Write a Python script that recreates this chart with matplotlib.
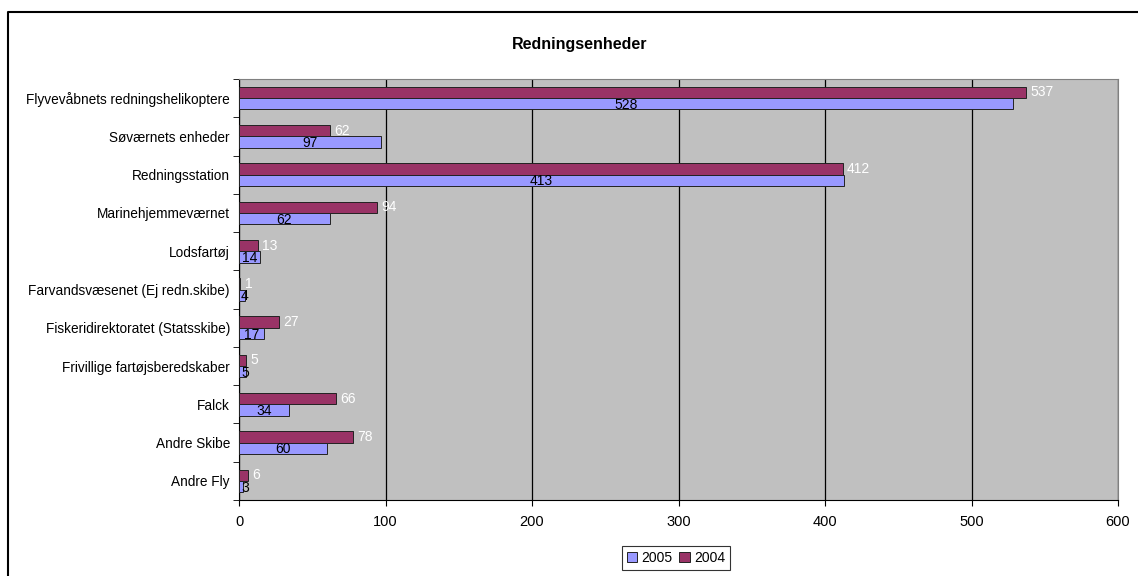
import matplotlib
matplotlib.use("Agg")
import matplotlib.pyplot as plt
from matplotlib.lines import Line2D
import numpy as np

categories = ["Flyvevåbnets redningshelikoptere", "Søværnets enheder", "Redningsstation",
              "Marinehjemmeværnet", "Lodsfartøj", "Farvandsvæsenet (Ej redn.skibe)",
              "Fiskeridirektoratet (Statsskibe)", "Frivillige fartøjsberedskaber",
              "Falck", "Andre Skibe", "Andre Fly"]
v2004 = [537, 62, 412, 94, 13, 1, 27, 5, 66, 78, 6]
v2005 = [528, 97, 413, 62, 14, 4, 17, 5, 34, 60, 3]
xticks = [0, 100, 200, 300, 400, 500, 600]

plt.rcParams['font.family'] = ['Liberation Sans', 'DejaVu Sans']

W, H = 1138, 576
fig = plt.figure(figsize=(W / 100, H / 100), dpi=100)
ax = fig.add_axes([239 / W, 1 - 500 / H, 879 / W, 421 / H])
ax.set_facecolor("#C0C0C0")

n = len(categories)
y = np.arange(n)
h = 0.295
ax.barh(y - h / 2, v2004, height=h, color="#993366", edgecolor="#222222", lw=0.7, label="2004", zorder=3)
ax.barh(y + h / 2, v2005, height=h, color="#9999FF", edgecolor="#222222", lw=0.7, label="2005", zorder=3)

for i in range(n):
    ax.text(v2004[i] + 3, y[i] - h / 2, str(v2004[i]), color="white", fontsize=10,
            va="center", ha="left", zorder=4)
    ax.text(max(v2005[i] / 2, 4), y[i] + h / 2 + 0.03, str(v2005[i]), color="black", fontsize=10,
            va="center", ha="center", zorder=4)

ax.set_xlim(0, 600)
ax.set_ylim(n - 0.5, -0.5)
ax.set_xticks(xticks)
ax.set_yticks(y)
ax.set_yticklabels(categories, fontsize=9.8)
ax.set_yticks(np.arange(n + 1) - 0.5, minor=True)
ax.tick_params(axis="y", which="major", length=0, pad=6.5)
ax.tick_params(axis="y", which="minor", length=4, direction="out", color="black")
ax.tick_params(axis="x", length=4, direction="out", labelsize=10.5, pad=7, color="black")
ax.grid(axis="x", color="black", lw=0.9, zorder=1)
ax.set_axisbelow(True)
for s in ax.spines.values():
    s.set_color("#808080")
ax.spines["left"].set_color("black")
ax.spines["bottom"].set_color("black")

fig.text(580 / W, 1 - 45 / H, "Redningsenheder", ha="center", va="center", fontsize=11.5, fontweight="bold")

handles, labels = ax.get_legend_handles_labels()
leg = fig.legend(handles[::-1], labels[::-1], loc="center", bbox_to_anchor=(676 / W, 1 - 558 / H),
                 ncol=2, fontsize=10, frameon=True, fancybox=False, edgecolor="black",
                 handlelength=0.75, handleheight=0.75, handletextpad=0.3, columnspacing=0.5,
                 borderpad=0.35, borderaxespad=0)
leg.get_frame().set_linewidth(0.8)

bx, by = 8 / W, 1 - 12 / H
fig.add_artist(Line2D([bx, bx, 1], [0, by, by], color="black", lw=1.5, transform=fig.transFigure))

fig.savefig("out.png", dpi=100)
